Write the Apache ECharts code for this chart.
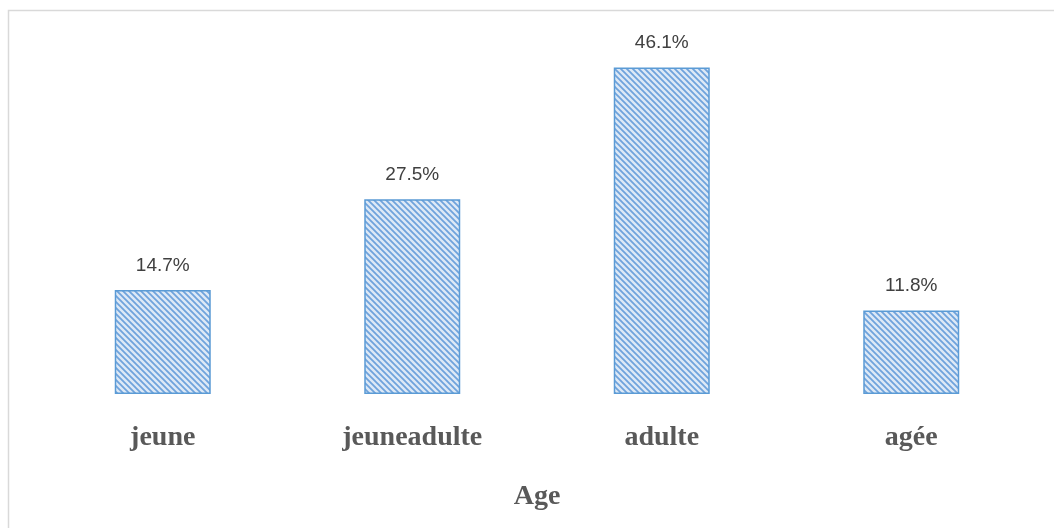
<!DOCTYPE html>
<html>
<head>
<meta charset="utf-8">
<script src="https://cdn.jsdelivr.net/npm/echarts@6/dist/echarts.min.js"></script>
<style>
  html, body { margin: 0; padding: 0; background: #ffffff; }
  #chart { width: 1054px; height: 528px; }
</style>
</head>
<body>
<div id="chart"></div>
<script>
// Age groups and their share (%)
const categories = ['jeune', 'jeuneadulte', 'adulte', 'agée'];
const shares = [14.7, 27.5, 46.1, 11.8];
const axisTitle = 'Age';

// Diagonal hatch tile for the bars
function hatchTile() {
  const s = 6;
  const c = document.createElement('canvas');
  c.width = s; c.height = s;
  const g = c.getContext('2d');
  g.fillStyle = '#dde9f6';
  g.fillRect(0, 0, s, s);
  g.strokeStyle = '#6fa3dc';
  g.lineWidth = 1.8;
  g.beginPath();
  g.moveTo(-1, -1); g.lineTo(s + 1, s + 1);
  g.moveTo(-1, s - 1); g.lineTo(1, s + 1);
  g.moveTo(s - 1, -1); g.lineTo(s + 1, 1);
  g.stroke();
  return c;
}

const chart = echarts.init(document.getElementById('chart'), null, { renderer: 'canvas' });
chart.setOption({
  animation: false,
  backgroundColor: '#ffffff',
  graphic: [{
    type: 'rect',
    shape: { x: 8.5, y: 10.5, width: 1060, height: 540 },
    style: { fill: 'none', stroke: '#d9d9d9', lineWidth: 1.5 },
    silent: true
  }],
  grid: { left: 38, right: 18, top: 40, bottom: 134 },
  xAxis: {
    type: 'category',
    data: categories,
    name: axisTitle,
    nameLocation: 'middle',
    nameGap: 89,
    nameTextStyle: { fontFamily: 'Liberation Serif', fontWeight: 'bold', fontSize: 28, color: '#595959' },
    axisLine: { show: false },
    axisTick: { show: false },
    axisLabel: { margin: 30, fontFamily: 'Liberation Serif', fontWeight: 'bold', fontSize: 28, color: '#595959' }
  },
  yAxis: {
    type: 'value',
    min: 0,
    max: 50,
    show: false,
    splitLine: { show: false }
  },
  series: [{
    type: 'bar',
    data: shares,
    barWidth: 96,
    itemStyle: {
      color: { image: hatchTile(), repeat: 'repeat' },
      borderColor: '#5b9bd5',
      borderWidth: 1.5
    },
    label: {
      show: true,
      position: 'top',
      distance: 15,
      formatter: p => p.value.toFixed(1) + '%',
      fontFamily: 'Liberation Sans',
      fontSize: 19,
      color: '#404040'
    }
  }]
});
</script>
</body>
</html>
